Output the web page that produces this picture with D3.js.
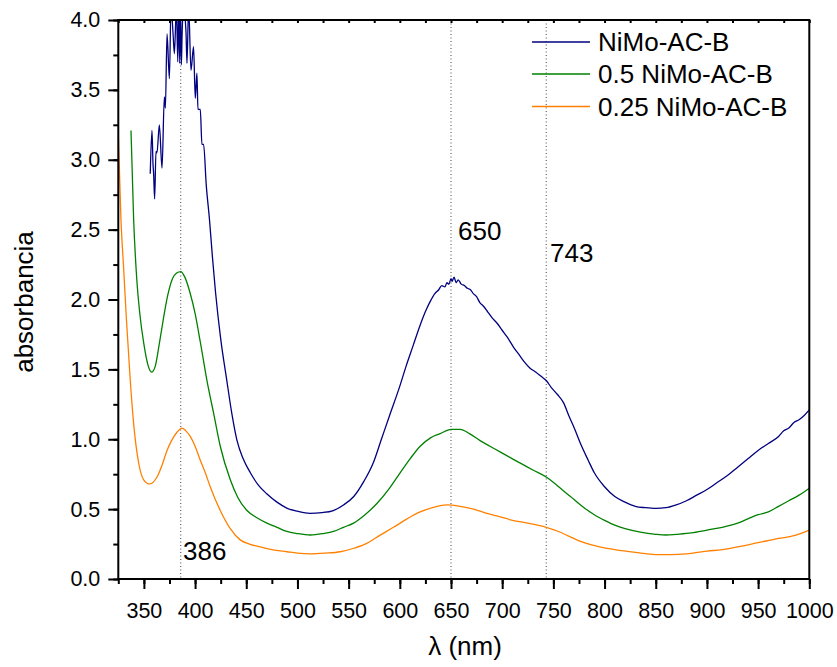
<!DOCTYPE html>
<html><head><meta charset="utf-8">
<script src="https://cdn.jsdelivr.net/npm/d3@7/dist/d3.min.js"></script>
<style>
body{margin:0;background:#fff;}
svg{font-family:"Liberation Sans",Arial,Helvetica,sans-serif;}
</style></head>
<body><svg id="c" width="837" height="667"></svg>
<script>
const seriesNames = ["NiMo-AC-B", "0.5 NiMo-AC-B", "0.25 NiMo-AC-B"];
const seriesColors = ["#000080", "#008000", "#ff8000"];

const blueNm = [356.2,357.9,358.9,359.5,360.5,361.8,362.8,365.1,367.7,370,371,372.6,374.9,376.5,378.5,379.8,381.8,383.1,384,385,385.7,386.6,387.3,388.5,391.1,392.1,393.7,396,398.5,400.2,401.8,402.8,405.1,406.7,408.3,410.9,414.1,417,420,425,431,436,441,447,454,462,470,480,490,500,512,524,535,545,555,565,574,582,590,600,606,613,620,626,630,634,638,641,644,646,648,650,651,653,655,657,660,663,666,669,672,675,678,682,686,690,695,700,705,711,717,722,727,733,738,743,748,754,760,765,771,777,784,790,800,810,820,830,840,850,860,870,880,890,900,910,920,930,940,950,960,970,975,980,985,990,995,1000];
const blueAbs = [2.90,3.21,2.97,2.90,2.72,3.06,3.05,3.25,2.94,3.45,3.37,3.90,3.58,4.10,3.90,3.76,4.10,3.70,4.10,3.69,4.10,3.68,3.89,4.10,3.92,3.69,4.10,3.64,3.81,3.44,3.62,3.36,3.36,3.11,3.11,2.82,2.57,2.30,2.05,1.72,1.42,1.18,0.99,0.86,0.76,0.67,0.61,0.55,0.506,0.485,0.47,0.475,0.49,0.53,0.59,0.70,0.83,1.00,1.17,1.38,1.52,1.67,1.82,1.93,1.99,2.04,2.07,2.10,2.09,2.12,2.11,2.15,2.13,2.16,2.12,2.14,2.11,2.10,2.08,2.07,2.04,2.02,1.98,1.95,1.91,1.87,1.83,1.78,1.73,1.66,1.60,1.55,1.51,1.48,1.45,1.42,1.37,1.32,1.26,1.17,1.07,0.96,0.85,0.76,0.66,0.59,0.55,0.52,0.51,0.505,0.51,0.53,0.56,0.60,0.64,0.69,0.74,0.80,0.86,0.92,0.97,1.02,1.06,1.08,1.12,1.14,1.17,1.21];

const greenNm = [337.4,340,343,346,350,354,357.5,361,365,369,373,378,382,386,390,395,400,405,411.6,418,424.6,434.4,442,450.7,460,470.2,480,489.7,500,512.5,525,535.2,545,554.8,566,577.6,590,600.3,610,619.9,630,639.4,650,659,668,678.4,688,697.9,710,720,730,743,752,760,770,780,790,800,810,820,835,850,860,870,885,900,915,930,940,950,960,970,980,990,1000];
const greenAbs = [3.21,2.57,2.15,1.90,1.68,1.53,1.48,1.52,1.68,1.86,2.02,2.15,2.19,2.20,2.16,2.05,1.90,1.70,1.42,1.19,0.95,0.71,0.58,0.49,0.44,0.40,0.37,0.34,0.325,0.315,0.325,0.34,0.37,0.40,0.46,0.54,0.65,0.76,0.86,0.95,1.01,1.04,1.07,1.07,1.04,0.99,0.95,0.91,0.86,0.82,0.78,0.73,0.68,0.63,0.57,0.51,0.46,0.42,0.385,0.36,0.335,0.32,0.315,0.32,0.33,0.35,0.37,0.40,0.43,0.46,0.48,0.52,0.56,0.60,0.65];

const orangeNm = [325,327.6,330,333,336.7,340,344.9,349.8,355.6,362.8,368,372.6,377,382.3,387.2,391,395.3,400,405.1,410,414.8,424.6,434.4,444.1,453,463.6,475,489.7,500,512.5,527,541.8,555,567.8,580,593.8,607,619.9,632,645.9,659,672,685,698,710,725,743,755,767,780,795,810,830,850,865,880,900,915,930,950,970,985,1000];
const orangeAbs = [3.18,2.57,2.25,1.85,1.42,1.11,0.83,0.71,0.68,0.73,0.82,0.92,0.99,1.05,1.08,1.06,1.02,0.95,0.85,0.76,0.66,0.49,0.36,0.28,0.25,0.23,0.21,0.195,0.185,0.18,0.185,0.195,0.22,0.255,0.31,0.37,0.43,0.48,0.51,0.53,0.52,0.50,0.47,0.445,0.42,0.40,0.37,0.34,0.30,0.26,0.23,0.21,0.19,0.175,0.175,0.18,0.20,0.21,0.23,0.26,0.29,0.31,0.35];

const markerLines = [386, 650, 743];
const markerLabels = ["386", "650", "743"];
const xMajorTicks = d3.range(350, 1001, 50);
const xMinorTicks = d3.range(325, 1001, 25);
const yMajorTicks = d3.range(0, 4.01, 0.5);
const yMinorTicks = d3.range(0, 4.01, 0.25);

const svg = d3.select("#c");
const L = 118.3, R = 809.3, T = 20, B = 579;
const x = d3.scaleLinear().domain([325, 1000]).range([L, R]);
const y = d3.scaleLinear().domain([0, 4]).range([B, T]);
const FS = "21.5px";

svg.append("defs").append("clipPath").attr("id","clip")
  .append("rect").attr("x",L).attr("y",T).attr("width",R-L).attr("height",B-T);

svg.append("g").selectAll("line").data(markerLines).join("line")
  .attr("x1",d=>x(d)).attr("x2",d=>x(d)).attr("y1",T).attr("y2",B)
  .attr("stroke","#444").attr("stroke-width",1).attr("stroke-dasharray","1,2.5");

const series = [
  {nm: blueNm, v: blueAbs},
  {nm: greenNm, v: greenAbs},
  {nm: orangeNm, v: orangeAbs}
];
const line = d3.line().x(d=>x(d[0])).y(d=>y(d[1])).curve(d3.curveMonotoneX);
const gLines = svg.append("g").attr("clip-path","url(#clip)");
series.forEach((s,i)=>{
  const pts = s.nm.map((n,j)=>[n, s.v[j]]);
  gLines.append("path").attr("d", line(pts)).attr("fill","none")
    .attr("stroke", seriesColors[i]).attr("stroke-width",1.3).attr("stroke-linejoin","round");
});

const xMinor = d3.axisBottom(x).tickValues(xMinorTicks).tickSize(5).tickFormat("");
const xMajor = d3.axisBottom(x).tickValues(xMajorTicks).tickSize(10).tickPadding(14).tickFormat(d3.format("d"));
const yMinor = d3.axisLeft(y).tickValues(yMinorTicks).tickSize(5).tickFormat("");
const yMajor = d3.axisLeft(y).tickValues(yMajorTicks).tickSize(10).tickPadding(8).tickFormat(d3.format(".1f"));
const xTop = d3.axisTop(x).tickValues(xMinorTicks).tickSize(-3).tickFormat("");

function style(g){
  g.selectAll("path.domain").remove();
  g.selectAll("line").attr("stroke","#000").attr("stroke-width",2);
  g.selectAll("text").attr("fill","#000").style("font-size",FS).style("font-family",'"Liberation Sans",Arial,sans-serif');
}
svg.append("g").attr("transform",`translate(0,${B})`).call(xMinor).call(style);
svg.append("g").attr("transform",`translate(0,${B})`).call(xMajor).call(style);
svg.append("g").attr("transform",`translate(${L},0)`).call(yMinor).call(style);
svg.append("g").attr("transform",`translate(${L},0)`).call(yMajor).call(style);
svg.append("g").attr("transform",`translate(0,${T})`).call(xTop).call(style);

svg.append("rect").attr("x",L).attr("y",T).attr("width",R-L).attr("height",B-T)
  .attr("fill","none").attr("stroke","#000").attr("stroke-width",2);

const labelPos = [[183,560],[458,240],[550,262]];
svg.append("g").selectAll("text").data(markerLabels).join("text")
  .attr("x",(d,i)=>labelPos[i][0]).attr("y",(d,i)=>labelPos[i][1])
  .style("font-size","26px").attr("fill","#000").text(d=>d);

const lg = svg.append("g");
const legY = [42, 74, 106.5];
seriesNames.forEach((n,i)=>{
  lg.append("line").attr("x1",532).attr("x2",590).attr("y1",legY[i]).attr("y2",legY[i])
    .attr("stroke",seriesColors[i]).attr("stroke-width",1.3);
  lg.append("text").attr("x",598).attr("y",legY[i]+9).style("font-size","26px").attr("fill","#000").text(n);
});

svg.append("text").attr("x",465).attr("y",655).attr("text-anchor","middle")
  .style("font-size","26px").text("λ (nm)");
svg.append("text").attr("transform","translate(33,302) rotate(-90)").attr("text-anchor","middle")
  .style("font-size","26px").text("absorbancia");
</script></body></html>
